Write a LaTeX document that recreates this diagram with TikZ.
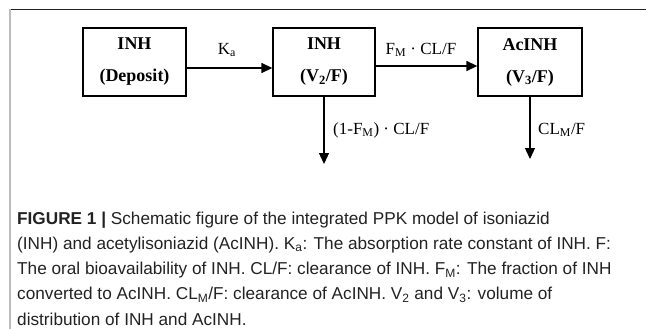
\documentclass[tikz,border=0pt]{standalone}
\usepackage{fontspec}
\setmainfont{Liberation Serif}
\newfontfamily\capfont{Liberation Sans}
\usetikzlibrary{arrows.meta}
\definecolor{capcol}{HTML}{222222}
\definecolor{framegray}{HTML}{BBBBBB}
\tikzset{
  compbox/.style={draw, line width=1.3pt, inner sep=0pt, minimum height=68pt,
    align=center, font=\bfseries\fontsize{18}{32}\selectfont},
  flow/.style={line width=1.3pt, -{Triangle[length=11pt,width=10pt]}},
  flowlabel/.style={inner sep=0pt, font=\fontsize{17}{20}\selectfont},
  capline/.style={anchor=base west, inner sep=0pt, text=capcol,
    font=\capfont\fontsize{17.2}{25.5}\selectfont}
}
\begin{document}
\begin{tikzpicture}[x=1pt,y=-1pt]
\useasboundingbox (0,0) rectangle (646,329);
% frame lines
\draw[capcol, line width=1.4pt] (9,9.7) -- (646,9.7);
\draw[framegray, line width=2pt] (10,9) -- (10,329);
% boxes
\node[compbox, minimum width=103pt] (dep) at (134.5,62) {INH\\(Deposit)};
\node[compbox, minimum width=102pt] (cen) at (324,62) {INH\\(V\textsubscript{2}/F)};
\node[compbox, minimum width=104pt] (met) at (530,62) {AcINH\\(V\textsubscript{3}/F)};
% free ends
\coordinate (out1) at (324,164);
\coordinate (out2) at (530,159);
% arrows
\draw[flow] ([yshift=-6pt]dep.east) -- ([yshift=-6pt]cen.west);
\draw[flow] ([yshift=-4pt]cen.east) -- ([yshift=-4pt]met.west);
\draw[flow] (cen.south) -- (out1);
\draw[flow] (met.south) -- (out2);
% labels
\node[flowlabel] (ka) at (227,50) {K\textsubscript{a}};
\node[flowlabel] (fm) at (421,50) {F\textsubscript{M} · CL/F};
\node[flowlabel, anchor=west] (fm1) at (333,130) {(1-F\textsubscript{M}) · CL/F};
\node[flowlabel, anchor=west] (clm) at (538,130) {CL\textsubscript{M}/F};
% caption
\node[capline] (c1) at (17,224) {\textbf{FIGURE 1 |} Schematic figure of the integrated PPK model of isoniazid};
\node[capline] (c2) at (17,249.3) {(INH) and acetylisoniazid (AcINH). K\textsubscript{a}: The absorption rate constant of INH. F:};
\node[capline] (c3) at (17,274.6) {The oral bioavailability of INH. CL/F: clearance of INH. F\textsubscript{M}: The fraction of INH};
\node[capline] (c4) at (17,299.9) {converted to AcINH. CL\textsubscript{M}/F: clearance of AcINH. V\textsubscript{2} and V\textsubscript{3}: volume of};
\node[capline] (c5) at (17,325.2) {distribution of INH and AcINH.};
\end{tikzpicture}
\end{document}
